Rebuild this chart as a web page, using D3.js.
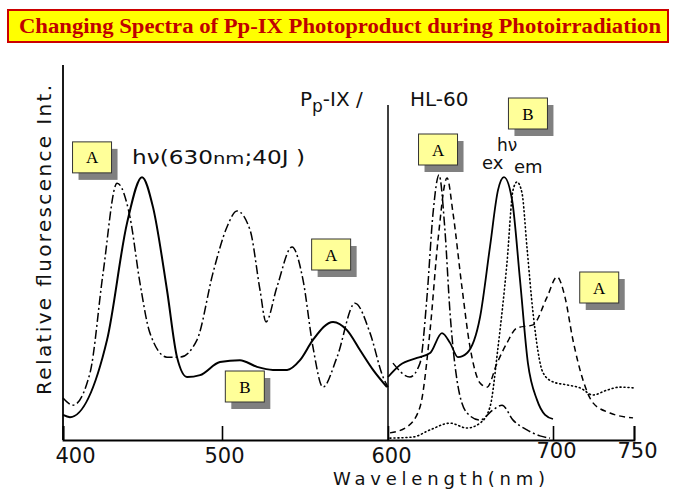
<!DOCTYPE html>
<html>
<head>
<meta charset="utf-8">
<script src="https://cdn.jsdelivr.net/npm/d3@7/dist/d3.min.js"></script>
<style>
  html, body { margin: 0; padding: 0; background: #fff; }
  svg { display: block; }
</style>
</head>
<body>
<svg id="chart" width="673" height="491"></svg>
<script>
// ---- Data (wavelength nm, relative intensity 0-100) ----
const tickValues = [400, 500, 600, 700, 750];
const tickLabels = ["400", "500", "600", "700", "750"];

// Left panel (excitation, 400-600 nm)
const leftA_nm  = [400, 406.3, 417, 425.2, 434, 442.1, 448.4, 454.7, 465.4, 473.6, 484.3, 494.3, 503, 509, 516.9, 522.9, 526.5, 533.1, 542.2, 548.8, 554.8, 560.8, 569.3, 580.1, 589.2, 597, 600];
const leftA_val = [11.2, 9.3, 17.9, 44.5, 68.5, 59.5, 41.9, 28.5, 22.1, 22.1, 26.7, 44.5, 56.8, 61.1, 56, 40, 31.5, 40.8, 51.5, 42.7, 24.8, 14.1, 22.1, 36.5, 28.5, 16.8, 14.1];

const leftB_nm  = [400, 404.4, 427.7, 440.3, 449.7, 456.6, 465.4, 471.7, 478, 486.2, 498.7, 510.8, 521.1, 530.7, 539.2, 547, 554.8, 566.9, 575.3, 583.1, 591, 599.4];
const leftB_val = [6.7, 6.1, 26.7, 57.9, 70.1, 62.1, 40, 22.1, 16.8, 17.3, 20.8, 21.3, 19.5, 18.7, 18.7, 21.3, 26.7, 31.5, 29.3, 24, 18.7, 14.1];

// Right panel (600-750 nm)
const rightB_nm  = [600, 607.3, 617.6, 625.5, 632.7, 637.6, 642.4, 647.9, 655.8, 661.8, 666.7, 670.3, 675.2, 680, 684.8, 690.3, 695.2, 700];
const rightB_val = [16.8, 20, 21.9, 23.2, 28.5, 25.9, 22.1, 23.2, 32.8, 51.5, 66.7, 70.1, 64, 42.7, 20.5, 10.7, 6.7, 5.6];

const rightDD_nm  = [603, 613.3, 619.4, 623.6, 627.3, 630.9, 634.5, 637.6, 641.8, 647.9, 655.8, 663.6, 669.1, 675.8, 684.2, 692.1, 698.2];
const rightDD_val = [20.5, 16.8, 20.5, 38, 60.5, 70.7, 56, 33.9, 16, 7.2, 5.3, 8, 9.3, 5.3, 2.7, 1.1, 0.5];

const rightDash_nm  = [601.2, 611.5, 619.4, 625.5, 630.3, 635.8, 639.4, 644.8, 649.7, 655.8, 660, 666.1, 672.1, 678.2, 687.9, 696.4, 702.5, 707.4, 712.3, 718.5, 724.7, 735.2, 749.4];
const rightDash_val = [1.9, 3.5, 8.8, 29.3, 53.3, 69.9, 60.5, 40.8, 24.8, 15.2, 14.1, 20.5, 25.9, 29.9, 30.7, 38.1, 43.5, 38.1, 26.7, 16, 9.9, 7.2, 5.9];

const rightDot_nm  = [601.2, 615.2, 625.5, 637.6, 647.9, 655.8, 661.8, 666.7, 672.1, 675.8, 678.2, 681.2, 684.2, 687.9, 694, 700, 708.6, 716.7, 724.7, 733.3, 741.4, 749.4];
const rightDot_val = [0.5, 0.8, 2.7, 4.5, 3.2, 4.5, 8.8, 24.8, 47.2, 66.7, 68.8, 65.9, 51.5, 33.9, 17.9, 15.5, 14.7, 13.9, 12, 13.3, 14.1, 13.9];

// Label boxes: [text, wavelength, value]
const boxLabels = ["A", "A", "B", "A", "B", "A"];
const boxNm     = [406, 554, 502, 618.5, 673, 716.5];
const boxVal    = [79.5, 53.6, 18.4, 81.6, 91.2, 44.8];

// ---- Layout ----
const svg = d3.select("#chart");
const fontSans = "'DejaVu Sans', 'Liberation Sans', sans-serif";
const fontSerif = "'Liberation Serif', 'Times New Roman', serif";

const x = d3.scaleLinear().domain(tickValues).range([63, 222, 388, 553, 634]);
const y = d3.scaleLinear().domain([0, 100]).range([440, 65]);

// Title banner
svg.append("rect").attr("x", 8).attr("y", 10).attr("width", 660).attr("height", 32)
  .attr("fill", "#ffff00").attr("stroke", "#cc0000").attr("stroke-width", 2);
svg.append("text").attr("x", 340).attr("y", 33).attr("text-anchor", "middle")
  .attr("font-family", fontSerif).attr("font-weight", "bold").attr("font-size", 20)
  .attr("fill", "#c00000").attr("textLength", 642).attr("lengthAdjust", "spacingAndGlyphs")
  .text("Changing Spectra of Pp-IX Photoproduct during Photoirradiation");

// Axes
svg.append("line").attr("x1", x(400)).attr("x2", x(400)).attr("y1", 65).attr("y2", y(0))
  .attr("stroke", "#000").attr("stroke-width", 1.8);
svg.append("line").attr("x1", x(600)).attr("x2", x(600)).attr("y1", 105).attr("y2", y(0))
  .attr("stroke", "#000").attr("stroke-width", 1.5);

const xAxis = d3.axisBottom(x).tickValues(tickValues)
  .tickFormat((d, i) => tickLabels[i]).tickSize(-14).tickPadding(10);
const gx = svg.append("g").attr("transform", `translate(0,${y(0)})`).call(xAxis);
gx.select(".domain").attr("stroke", "#000").attr("stroke-width", 1.8);
gx.selectAll(".tick line").attr("stroke", "#000").attr("stroke-width", 1.6);
gx.selectAll(".tick text").attr("font-family", fontSans).attr("font-size", 21)
  .attr("fill", "#111")
  .attr("y", (d) => (d >= 700 ? 18 : 23))
  .attr("dy", "0")
  .attr("dx", (d) => (d === 400 ? 12 : d === 500 ? 2 : 3));

svg.append("text").attr("x", 439).attr("y", 485).attr("text-anchor", "middle")
  .attr("font-family", fontSans).attr("font-size", 18).attr("fill", "#111")
  .attr("textLength", 212).attr("lengthAdjust", "spacing")
  .text("Wavelength(nm)");

svg.append("text").attr("transform", "translate(51,240) rotate(-90)")
  .attr("text-anchor", "middle").attr("font-family", fontSans).attr("font-size", 20)
  .attr("fill", "#111").attr("textLength", 310).attr("lengthAdjust", "spacing")
  .text("Relative fluorescence Int.");

// Curve drawing
const line = d3.line().x(d => x(d[0])).y(d => y(d[1])).curve(d3.curveMonotoneX);
function drawCurve(nm, val, dash, width) {
  svg.append("path").datum(nm.map((n, i) => [n, val[i]]))
    .attr("d", line).attr("fill", "none").attr("stroke", "#000")
    .attr("stroke-width", width).attr("stroke-dasharray", dash)
    .attr("stroke-linecap", dash && dash.startsWith("1") ? "round" : "butt")
    .attr("stroke-linejoin", "round");
}
drawCurve(leftA_nm, leftA_val, "9,3,2,3", 1.5);
drawCurve(leftB_nm, leftB_val, null, 2);
drawCurve(rightB_nm, rightB_val, null, 1.8);
drawCurve(rightDD_nm, rightDD_val, "9,3,2,3", 1.5);
drawCurve(rightDash_nm, rightDash_val, "6,4", 1.5);
drawCurve(rightDot_nm, rightDot_val, "1,3", 1.6);

// Annotations
const ann = svg.append("g").attr("font-family", fontSans).attr("fill", "#111");
const t1 = ann.append("text").attr("x", 132).attr("y", 164).attr("font-size", 19)
  .attr("textLength", 173).attr("lengthAdjust", "spacingAndGlyphs");
t1.append("tspan").text("hν(630");
t1.append("tspan").attr("font-size", 16).text("nm");
t1.append("tspan").text(";40J )");

const t2 = ann.append("text").attr("x", 300).attr("y", 106).attr("font-size", 20);
t2.append("tspan").text("P");
t2.append("tspan").attr("dy", 6).attr("font-size", 17).text("p");
t2.append("tspan").attr("dy", -6).text("-IX /");
ann.append("text").attr("x", 410).attr("y", 106).attr("font-size", 20).text("HL-60");

ann.append("text").attr("x", 497).attr("y", 151).attr("font-size", 17).text("hν");
ann.append("text").attr("x", 482).attr("y", 169).attr("font-size", 18).text("ex");
ann.append("text").attr("x", 514).attr("y", 173).attr("font-size", 18).text("em");

// Label boxes
const bw = 39, bh = 31;
const boxes = svg.append("g");
boxLabels.forEach((lab, i) => {
  const bx = x(boxNm[i]), by = y(boxVal[i]);
  boxes.append("rect").attr("x", bx + 6).attr("y", by + 7).attr("width", bw).attr("height", bh)
    .attr("fill", "#808080");
  boxes.append("rect").attr("x", bx).attr("y", by).attr("width", bw).attr("height", bh)
    .attr("fill", "#ffff99").attr("stroke", "#333").attr("stroke-width", 1);
  boxes.append("text").attr("x", bx + bw / 2).attr("y", by + bh / 2 + 6)
    .attr("text-anchor", "middle").attr("font-family", fontSerif).attr("font-size", 17)
    .attr("fill", "#000").text(lab);
});
</script>
</body>
</html>
